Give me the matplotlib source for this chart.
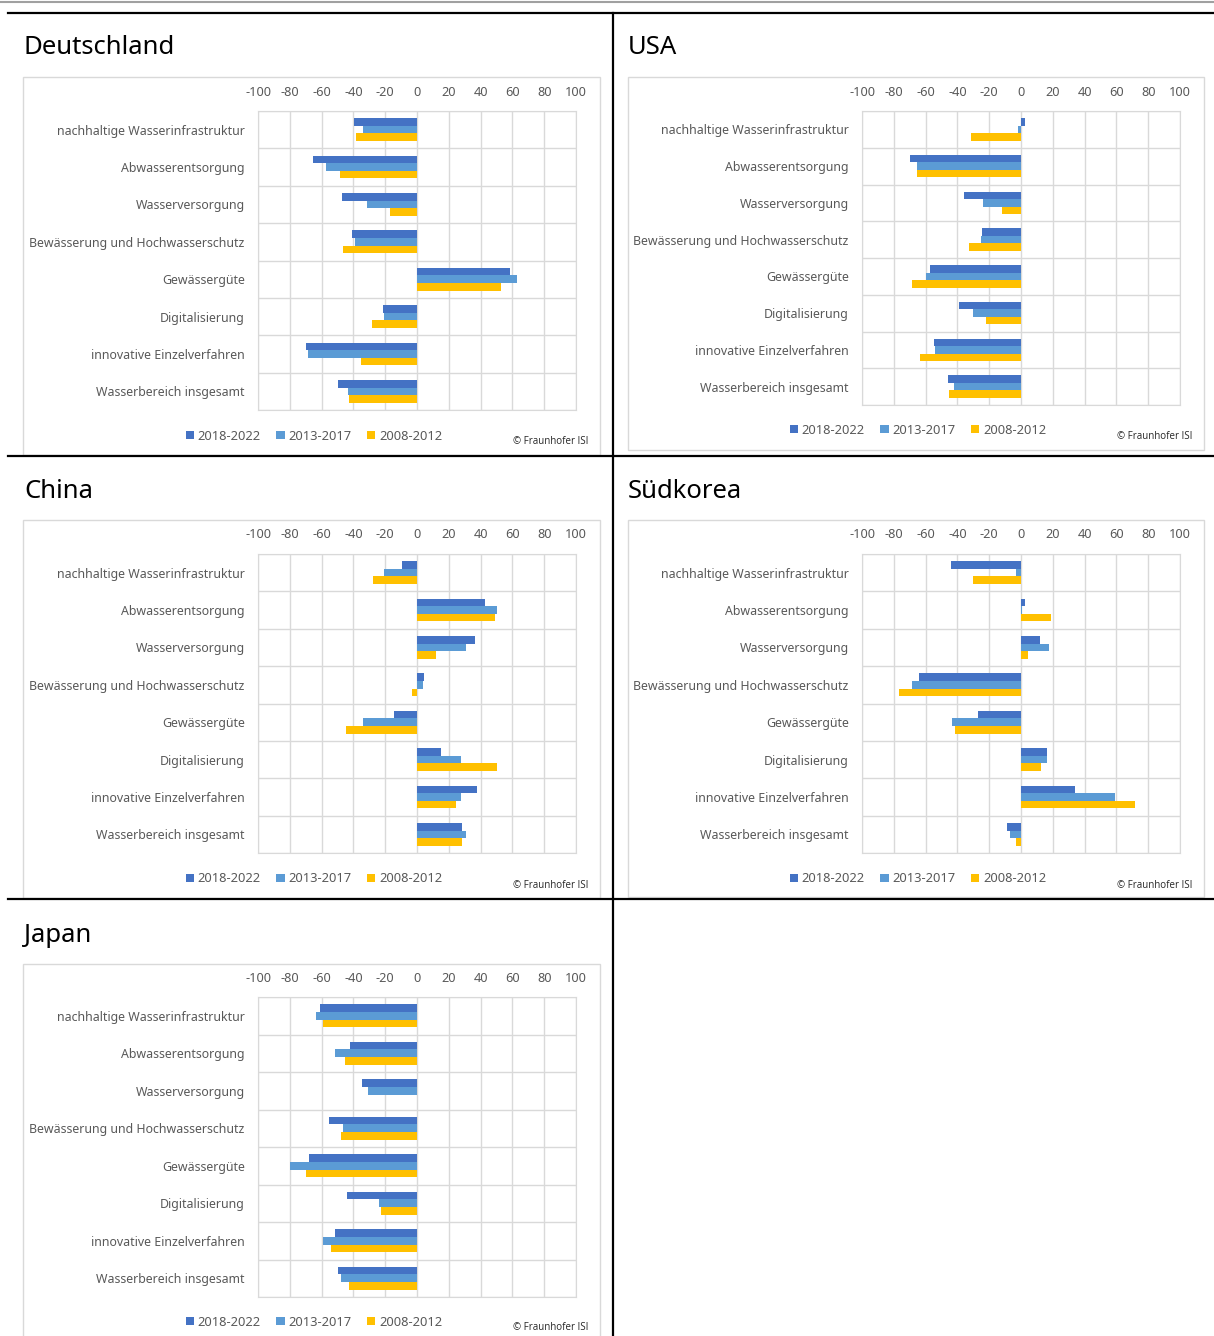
import matplotlib
matplotlib.use('Agg')
import matplotlib.pyplot as plt
import numpy as np
from matplotlib.patches import Rectangle, Patch
from matplotlib.lines import Line2D

plt.rcParams['font.family'] = ['Noto Sans', 'DejaVu Sans']
plt.rcParams['axes.unicode_minus'] = False

W, H = 1214, 1336

categories = ['nachhaltige Wasserinfrastruktur', 'Abwasserentsorgung', 'Wasserversorgung',
              'Bewässerung und Hochwasserschutz', 'Gewässergüte', 'Digitalisierung',
              'innovative Einzelverfahren', 'Wasserbereich insgesamt']
periods = ['2018-2022', '2013-2017', '2008-2012']
colors = ['#4472C4', '#5B9BD5', '#FFC000']
xticks = [-100, -80, -60, -40, -20, 0, 20, 40, 60, 80, 100]

# Veränderung je Zeitraum
de_2018 = [-39.5, -65.5, -47.4, -40.7, 58.6, -21.4, -69.9, -49.7]
de_2013 = [-33.8, -57.5, -31.5, -38.8, 63.2, -20.8, -68.8, -43.4]
de_2008 = [-38.4, -48.5, -17.0, -46.8, 53.1, -28.1, -35.5, -42.8]

us_2018 = [2.7, -69.8, -35.8, -24.7, -57.2, -38.8, -54.5, -46.1]
us_2013 = [-1.7, -65.2, -24.1, -25.4, -59.5, -30.4, -53.9, -42.1]
us_2008 = [-31.4, -65.6, -11.7, -32.5, -68.6, -21.8, -63.5, -45.1]

cn_2018 = [-9.7, 42.8, 36.5, 4.4, -14.5, 15.1, 37.8, 28.1]
cn_2013 = [-20.8, 50.6, 30.8, 3.8, -33.8, 27.5, 27.5, 30.8]
cn_2008 = [-27.5, 48.9, 11.8, -3.4, -44.5, 50.6, 24.8, 28.1]

kr_2018 = [-43.8, 2.5, 11.7, -64.2, -26.8, 16.1, 34.2, -9.0]
kr_2013 = [-3.4, 0.6, 17.8, -68.6, -43.2, 16.1, 59.1, -6.7]
kr_2008 = [-30.4, 18.9, 4.4, -76.7, -41.5, 12.6, 71.9, -2.9]

jp_2018 = [-60.9, -42.2, -34.4, -55.4, -67.8, -44.1, -51.8, -49.7]
jp_2013 = [-63.6, -51.8, -31.1, -46.4, -80.0, -23.7, -59.4, -48.1]
jp_2008 = [-59.4, -45.5, 0.0, -48.1, -69.9, -22.5, -54.1, -42.8]

# name, Werte, Titelpos, Rahmen (x0, y0, x1, y1), Plotfläche (x, y, w, h), Legende (x, y), Copyright (x, y)
panels = [
    ('Deutschland', (de_2018, de_2013, de_2008), (24, 47), (23, 77, 600, 455),
     (258, 111, 318, 299), (314, 436), (588, 441)),
    ('USA', (us_2018, us_2013, us_2008), (628, 47), (628, 77, 1204, 450),
     (862, 111, 318, 294), (918, 430), (1192, 436)),
    ('China', (cn_2018, cn_2013, cn_2008), (24, 490), (23, 520, 600, 898),
     (258, 554, 318, 299), (314, 879), (588, 885)),
    ('Südkorea', (kr_2018, kr_2013, kr_2008), (628, 490), (628, 520, 1204, 897),
     (862, 554, 318, 299), (918, 879), (1192, 885)),
    ('Japan', (jp_2018, jp_2013, jp_2008), (24, 934), (23, 964, 600, 1345),
     (258, 997, 318, 300), (314, 1322), (588, 1328)),
]


def fx(x):
    return x / W


def fy(y):
    return 1 - y / H


fig = plt.figure(figsize=(W / 100, H / 100), dpi=100)

# Tabellenlinien
fig.add_artist(Line2D([0, 1], [fy(2), fy(2)], color='#a0a0a0', lw=1.5))
fig.add_artist(Line2D([fx(8), 1], [fy(13), fy(13)], color='black', lw=1.6))
fig.add_artist(Line2D([fx(8), 1], [fy(456), fy(456)], color='black', lw=1.6))
fig.add_artist(Line2D([fx(8), 1], [fy(899), fy(899)], color='black', lw=1.6))
fig.add_artist(Line2D([fx(613), fx(613)], [fy(13), 0], color='black', lw=1.6))

gray = '#595959'
ypos = np.arange(len(categories))
bh = 0.202

for name, values, tpos, box, area, legpos, cpos in panels:
    x0, y0, x1, y1 = box
    fig.add_artist(Rectangle((fx(x0), fy(y1)), fx(x1 - x0), (y1 - y0) / H,
                             transform=fig.transFigure, fill=False,
                             edgecolor='#d9d9d9', lw=1))
    fig.text(fx(tpos[0]), fy(tpos[1] + 1), name, fontsize=18.5, va='center', ha='left', color='black')

    ax_x, ax_y, ax_w, ax_h = area
    ax = fig.add_axes([fx(ax_x), fy(ax_y + ax_h), ax_w / W, ax_h / H])
    for k, (vals, c) in enumerate(zip(values, colors)):
        ax.barh(ypos + (k - 1) * bh, vals, height=bh, color=c, zorder=3)

    ax.set_xlim(-100, 100)
    ax.set_ylim(len(categories) - 0.5, -0.5)
    ax.set_xticks(xticks)
    ax.xaxis.tick_top()
    ax.set_yticks(ypos)
    ax.set_yticklabels(categories)
    ax.set_yticks(np.arange(len(categories) + 1) - 0.5, minor=True)
    ax.tick_params(axis='both', which='both', length=0, colors=gray)
    ax.tick_params(axis='x', labelsize=9.2, pad=9)
    ax.tick_params(axis='y', labelsize=8.9, pad=9.5)
    ax.grid(axis='x', which='major', color='#d9d9d9', lw=1, zorder=0)
    ax.grid(axis='y', which='minor', color='#d9d9d9', lw=1, zorder=0)
    for sp in ax.spines.values():
        sp.set_color('#d9d9d9')

    handles = [Patch(facecolor=c, label=p) for c, p in zip(colors, periods)]
    fig.legend(handles=handles, loc='center', bbox_to_anchor=(fx(legpos[0]), fy(legpos[1])),
               ncol=3, frameon=False, fontsize=9.3, labelcolor=gray,
               handlelength=0.62, handleheight=0.62, handletextpad=0.3,
               columnspacing=1.2, borderpad=0, borderaxespad=0)
    fig.text(fx(cpos[0]), fy(cpos[1]), '© Fraunhofer ISI', fontsize=7, ha='right',
             va='center', color='#262626', family=['Open Sans', 'DejaVu Sans'])

fig.savefig('out.png', dpi=100)
